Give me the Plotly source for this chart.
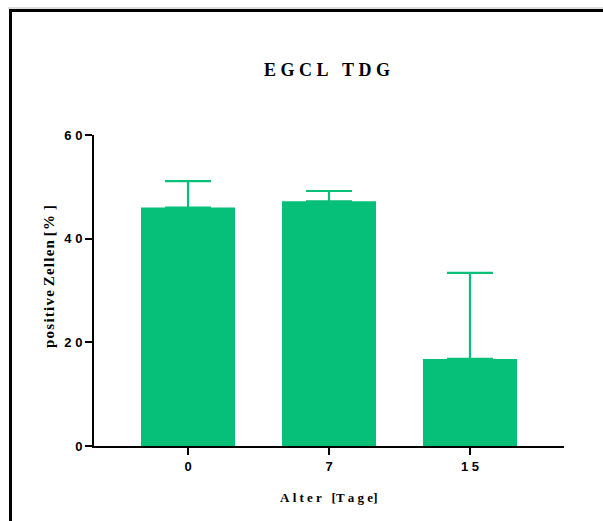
import plotly.graph_objects as go

# Alter der Tiere und Anteil positiver Zellen (Mittelwert + Fehler nach oben)
categories = ["0", "7", "15"]
means = [46.0, 47.2, 16.8]
errors_up = [5.1, 2.0, 16.6]
y_ticks = [0, 20, 40, 60]
y_tick_labels = ["0", "20", "40", "60"]

GREEN = "#06BF78"
NB = "\u00a0"   # non-breaking space, used for letter spacing
HS = "\u200a"   # hair space


def spaced(text, gap):
    """Spread the letters of a label apart."""
    return gap.join(text)


fig = go.Figure()
fig.add_trace(go.Bar(
    x=[0, 1, 2],
    y=means,
    width=0.667,
    marker=dict(color=GREEN, line=dict(width=0)),
    error_y=dict(
        type="data",
        symmetric=False,
        array=errors_up,
        arrayminus=[0, 0, 0],
        color=GREEN,
        thickness=2.2,
        width=23,
    ),
    showlegend=False,
))

serif = "Liberation Serif, Times New Roman, serif"
sans = "Liberation Sans, Arial, sans-serif"

title_text = spaced("EGCL", NB) + NB * 3 + spaced("TDG", NB)
x_title = spaced("Alter", NB) + NB * 3 + "[" + spaced("Tage", NB) + "]"
y_title = spaced("positive", HS) + NB + spaced("Zellen", HS) + NB + "[" + HS + "%" + HS + NB + "]"

axis_style = dict(
    ticks="outside",
    ticklen=7,
    tickwidth=2,
    tickcolor="black",
    showline=True,
    linecolor="black",
    linewidth=2,
    showgrid=False,
    zeroline=False,
    tickfont=dict(family=sans, size=13, color="black"),
)

fig.update_layout(
    width=603,
    height=521,
    margin=dict(l=94, r=39, t=135, b=75),
    paper_bgcolor="white",
    plot_bgcolor="white",
    title=dict(
        text="<b>%s</b>" % title_text,
        x=327 / 603,
        xanchor="center",
        y=1 - 70 / 521,
        yanchor="middle",
        font=dict(family=serif, size=18, color="black"),
    ),
    xaxis=dict(
        range=[-0.667, 2.667],
        tickvals=[0, 1, 2],
        ticktext=["<b>%s</b>" % spaced(t, NB) for t in categories],
        **axis_style,
    ),
    yaxis=dict(
        range=[0, 60],
        tickvals=y_ticks,
        ticktext=["<b>%s</b>" % spaced(t, NB) for t in y_tick_labels],
        **axis_style,
    ),
)

# Achsentitel
fig.add_annotation(
    text="<b>%s</b>" % x_title,
    xref="paper", yref="paper",
    x=(328 - 94) / 470, y=(446 - 497) / 311,
    xanchor="center", yanchor="middle",
    showarrow=False,
    font=dict(family=serif, size=13, color="black"),
)
fig.add_annotation(
    text="<b>%s</b>" % y_title,
    xref="paper", yref="paper",
    x=(49 - 94) / 470, y=(446 - 277) / 311,
    xanchor="center", yanchor="middle",
    textangle=-90,
    showarrow=False,
    font=dict(family=serif, size=15, color="black"),
)

# Rahmen oben und links
fig.add_shape(type="line", xref="paper", yref="paper",
              x0=(8 - 94) / 470, x1=(603 - 94) / 470,
              y0=(446 - 8) / 311, y1=(446 - 8) / 311,
              line=dict(color="#bbbbbb", width=1))
fig.add_shape(type="line", xref="paper", yref="paper",
              x0=(9 - 94) / 470, x1=(603 - 94) / 470,
              y0=(446 - 10.5) / 311, y1=(446 - 10.5) / 311,
              line=dict(color="black", width=3))
fig.add_shape(type="line", xref="paper", yref="paper",
              x0=(10.5 - 94) / 470, x1=(10.5 - 94) / 470,
              y0=(446 - 9) / 311, y1=(446 - 521) / 311,
              line=dict(color="black", width=3))

fig.write_html("out.html")
